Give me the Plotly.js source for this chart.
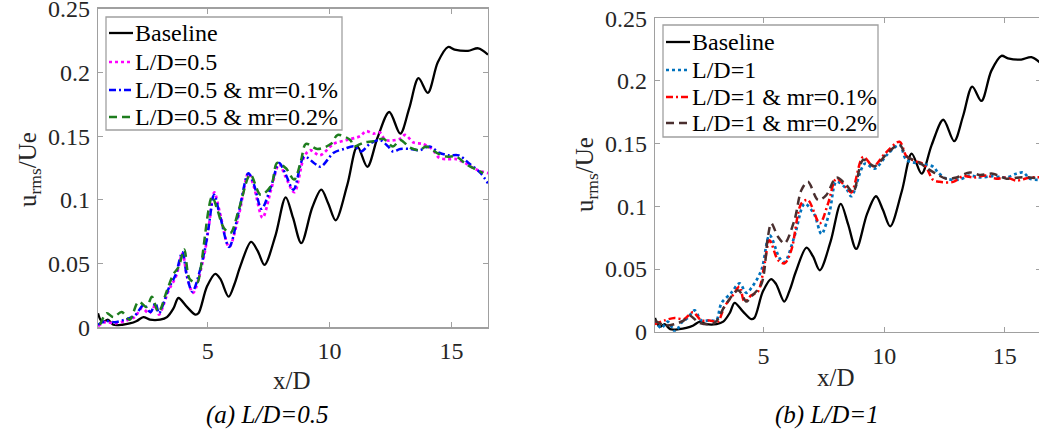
<!DOCTYPE html>
<html>
<head>
<meta charset="utf-8">
<script src="https://cdn.plot.ly/plotly-3.0.1.min.js"></script>
<style>
  html, body { margin: 0; padding: 0; background: #fff; overflow: hidden; }
  #chart { width: 1041px; height: 435px; }
</style>
</head>
<body>
<div id="chart"></div>
<script>
// Streamwise u_rms/Ue along the jet axis, baseline vs. controlled cases

// Shared axis ticks
const xTickVals = [5, 10, 15];
const xTickText = ['5', '10', '15'];
const yTickVals = [0, 0.05, 0.1, 0.15, 0.2, 0.25];
const yTickText = ['0', '0.05', '0.1', '0.15', '0.2', '0.25'];

// Baseline (same in both panels)
const baseX = [0.5, 0.6, 0.72, 0.9, 1.13, 1.5, 1.8, 2.09, 2.36, 2.63, 3.05, 3.33, 3.6, 3.8, 4.15, 4.49, 4.62, 4.97, 5.31, 5.52, 5.86, 6.1, 6.34, 6.78, 7.05, 7.33, 7.78, 8.2, 8.5, 8.84, 9.29, 9.66, 9.95, 10.25, 10.73, 11.14, 11.55, 11.97, 12.45, 12.9, 13.27, 13.65, 14.03, 14.44, 14.86, 15.13, 15.68, 16.1, 16.5];
const baseY = [0.011, 0.006, 0.004, 0.006, 0.002, 0.002, 0.003, 0.005, 0.008, 0.006, 0.006, 0.008, 0.015, 0.023, 0.016, 0.010, 0.011, 0.032, 0.042, 0.038, 0.024, 0.034, 0.048, 0.067, 0.060, 0.049, 0.072, 0.102, 0.086, 0.066, 0.094, 0.108, 0.097, 0.084, 0.112, 0.142, 0.126, 0.149, 0.169, 0.152, 0.172, 0.1955, 0.184, 0.208, 0.220, 0.218, 0.217, 0.219, 0.214];

// Panel (a): L/D = 0.5
const ld05X = [0.5, 0.8, 1.2, 1.6, 2.0, 2.3, 2.6, 2.85, 3.0, 3.4, 3.7, 3.97, 4.15, 4.4, 4.85, 5.05, 5.27, 5.5, 5.88, 6.3, 6.67, 6.9, 7.25, 7.6, 7.93, 8.2, 8.55, 8.96, 9.2, 9.6, 10.17, 10.7, 11.25, 11.5, 11.8, 12.05, 12.3, 12.9, 13.1, 13.45, 13.8, 14.2, 14.5, 14.8, 15.2, 15.55, 16.0, 16.5];
const ld05Y = [0.001, 0.004, 0.003, 0.005, 0.008, 0.015, 0.011, 0.017, 0.010, 0.029, 0.040, 0.058, 0.040, 0.027, 0.056, 0.080, 0.106, 0.090, 0.063, 0.090, 0.121, 0.110, 0.086, 0.108, 0.128, 0.118, 0.106, 0.134, 0.139, 0.135, 0.144, 0.147, 0.150, 0.154, 0.152, 0.153, 0.147, 0.148, 0.151, 0.145, 0.144, 0.140, 0.133, 0.132, 0.132, 0.129, 0.124, 0.121];

const ld05m1X = [0.5, 0.8, 1.2, 1.6, 2.0, 2.38, 2.65, 2.86, 3.0, 3.41, 3.68, 3.96, 4.15, 4.37, 4.85, 5.05, 5.26, 5.5, 5.88, 6.29, 6.67, 6.9, 7.21, 7.59, 7.93, 8.2, 8.52, 8.96, 9.36, 9.63, 10.17, 10.6, 11.0, 11.3, 11.65, 12.06, 12.4, 12.6, 12.9, 13.3, 13.7, 14.1, 14.5, 14.9, 15.3, 15.7, 16.2, 16.5];
const ld05m1Y = [0.002, 0.005, 0.004, 0.006, 0.009, 0.0175, 0.012, 0.019, 0.011, 0.031, 0.041, 0.059, 0.040, 0.028, 0.058, 0.080, 0.104, 0.088, 0.063, 0.092, 0.121, 0.112, 0.093, 0.110, 0.129, 0.120, 0.108, 0.134, 0.129, 0.126, 0.137, 0.140, 0.142, 0.138, 0.144, 0.147, 0.142, 0.138, 0.140, 0.140, 0.139, 0.142, 0.137, 0.135, 0.135, 0.129, 0.121, 0.113];

const ld05m2X = [0.58, 0.86, 1.13, 1.47, 1.8, 2.16, 2.5, 2.71, 2.98, 3.33, 3.6, 3.8, 4.04, 4.26, 4.57, 4.7, 5.18, 5.4, 5.66, 5.93, 6.3, 6.75, 7.17, 7.6, 7.85, 8.2, 8.55, 8.83, 9.03, 9.5, 10.06, 10.33, 10.85, 11.0, 11.4, 11.8, 12.2, 12.6, 12.9, 13.3, 13.7, 13.95, 14.4, 14.8, 15.2, 15.6, 16.0, 16.3];
const ld05m2Y = [0.002, 0.011, 0.008, 0.012, 0.006, 0.020, 0.016, 0.024, 0.012, 0.029, 0.042, 0.047, 0.061, 0.038, 0.035, 0.045, 0.1025, 0.092, 0.078, 0.074, 0.094, 0.120, 0.104, 0.111, 0.129, 0.125, 0.116, 0.131, 0.144, 0.140, 0.144, 0.151, 0.147, 0.142, 0.145, 0.146, 0.148, 0.142, 0.147, 0.141, 0.139, 0.142, 0.137, 0.134, 0.134, 0.128, 0.124, 0.121];

// Panel (b): L/D = 1
const ld1X = [0.48, 0.76, 1.03, 1.34, 1.59, 1.86, 2.14, 2.42, 2.76, 3.04, 3.25, 3.66, 4.01, 4.28, 4.5, 4.91, 5.25, 5.67, 5.87, 6.28, 6.7, 7.09, 7.4, 7.74, 8.02, 8.43, 8.64, 9.2, 9.6, 10.16, 10.64, 10.92, 11.48, 12.03, 12.23, 12.58, 13.13, 13.55, 13.96, 14.5, 15.07, 15.48, 15.76, 16.04, 16.5];
const ld1Y = [0.009, 0.003, 0.008, 0.000, 0.007, 0.011, 0.017, 0.009, 0.009, 0.009, 0.0226, 0.031, 0.0386, 0.031, 0.035, 0.049, 0.077, 0.0585, 0.0555, 0.076, 0.102, 0.094, 0.078, 0.096, 0.1196, 0.114, 0.108, 0.134, 0.130, 0.142, 0.149, 0.137, 0.134, 0.1316, 0.127, 0.122, 0.1214, 0.1245, 0.123, 0.124, 0.123, 0.126, 0.127, 0.122, 0.121];

const ld1m1X = [0.48, 0.9, 1.31, 1.7, 2.07, 2.42, 2.76, 3.1, 3.38, 3.8, 4.0, 4.21, 4.49, 4.77, 5.04, 5.25, 5.6, 5.87, 6.15, 6.57, 6.84, 7.33, 7.67, 8.02, 8.43, 8.64, 9.13, 9.55, 10.03, 10.64, 10.92, 11.34, 11.6, 11.8, 12.03, 12.3, 12.86, 13.27, 13.69, 14.24, 14.65, 15.07, 15.48, 16.04, 16.5];
const ld1m1Y = [0.006, 0.009, 0.011, 0.010, 0.0155, 0.009, 0.009, 0.008, 0.020, 0.031, 0.036, 0.024, 0.029, 0.032, 0.054, 0.073, 0.057, 0.0545, 0.065, 0.1024, 0.105, 0.0864, 0.102, 0.122, 0.115, 0.111, 0.1395, 0.132, 0.142, 0.1515, 0.140, 0.1356, 0.134, 0.129, 0.121, 0.1195, 0.1195, 0.124, 0.123, 0.1245, 0.122, 0.123, 0.1205, 0.123, 0.123];

const ld1m2X = [0.48, 0.9, 1.31, 1.7, 1.93, 2.35, 2.97, 3.38, 3.93, 4.1, 4.28, 4.49, 4.91, 5.18, 5.32, 5.6, 5.87, 6.28, 6.57, 6.84, 7.26, 7.6, 8.02, 8.43, 8.71, 9.13, 9.6, 10.16, 10.64, 10.92, 11.48, 11.8, 12.1, 12.58, 13.0, 13.55, 13.96, 14.5, 15.07, 15.6, 16.04, 16.5];
const ld1m2Y = [0.009, 0.005, 0.006, 0.009, 0.013, 0.007, 0.007, 0.020, 0.033, 0.030, 0.024, 0.028, 0.038, 0.0757, 0.0864, 0.0757, 0.0705, 0.089, 0.113, 0.1196, 0.105, 0.109, 0.123, 0.117, 0.111, 0.137, 0.132, 0.143, 0.149, 0.140, 0.1346, 0.130, 0.1265, 0.122, 0.123, 0.127, 0.125, 0.126, 0.122, 0.123, 0.123, 0.122];

const seriesNamesA = ['Baseline', 'L/D=0.5', 'L/D=0.5 & mr=0.1%', 'L/D=0.5 & mr=0.2%'];
const seriesNamesB = ['Baseline', 'L/D=1', 'L/D=1 & mr=0.1%', 'L/D=1 & mr=0.2%'];
const captions = ['(a) L/D=0.5', '(b) L/D=1'];

// Page geometry (px)
const W = 1041, H = 435;
const fx = p => p / W;
const fy = p => 1 - p / H;
const SERIF = 'Liberation Serif';

// Line styles per series slot
const stylesA = [
  { color: '#000000', dash: 'solid', width: 2.3 },
  { color: '#ff00ff', dash: 'dot', width: 2.7 },
  { color: '#0000ff', dash: '7px,3px,2px,3px', width: 2.5 },
  { color: '#1e7d1e', dash: '8px,5px', width: 2.5 }
];
const stylesB = [
  { color: '#000000', dash: 'solid', width: 2.3 },
  { color: '#0072bd', dash: 'dot', width: 2.7 },
  { color: '#ff0000', dash: '7px,3px,2px,3px', width: 2.5 },
  { color: '#4a2f2f', dash: '8px,5px', width: 2.5 }
];

function line(x, y, name, st, xa, ya) {
  return {
    x: x, y: y, name: name, type: 'scatter', mode: 'lines',
    xaxis: xa, yaxis: ya, showlegend: false,
    line: { color: st.color, dash: st.dash, width: st.width, shape: 'spline', smoothing: 0.9 }
  };
}

const dataA = [[baseX, baseY], [ld05X, ld05Y], [ld05m1X, ld05m1Y], [ld05m2X, ld05m2Y]];
const dataB = [[baseX, baseY], [ld1X, ld1Y], [ld1m1X, ld1m1Y], [ld1m2X, ld1m2Y]];

const traces = [];
dataA.forEach((d, i) => traces.push(line(d[0], d[1], seriesNamesA[i], stylesA[i], 'x', 'y')));
dataB.forEach((d, i) => traces.push(line(d[0], d[1], seriesNamesB[i], stylesB[i], 'x2', 'y2')));

const tickFont = { family: SERIF, size: 24, color: '#262626' };
const axisCommon = {
  showgrid: false, zeroline: false, showline: true, mirror: 'ticks',
  linecolor: '#a0a0a0', linewidth: 1.3, ticks: 'inside', ticklen: 5,
  tickcolor: '#a0a0a0', tickwidth: 1, tickfont: tickFont,
  ticklabeloverflow: 'allow', ticklabelstandoff: 2
};

function xAxis(d0, d1, anchor) {
  return Object.assign({}, axisCommon, {
    domain: [d0, d1], range: [0.5, 16.5], anchor: anchor,
    tickmode: 'array', tickvals: xTickVals, ticktext: xTickText
  });
}
function yAxis(d0, d1, anchor) {
  return Object.assign({}, axisCommon, {
    domain: [d0, d1], range: [0, 0.25], anchor: anchor,
    tickmode: 'array', tickvals: yTickVals, ticktext: yTickText
  });
}

// Boxed legends drawn in page space: box, sample line and label per row
const shapes = [];
const annotations = [];
function legendBox(box, rowsY, sampleX0, sampleX1, textX, names, styles) {
  shapes.push({
    type: 'rect', xref: 'paper', yref: 'paper',
    x0: fx(box[0]), x1: fx(box[1]), y0: fy(box[3]), y1: fy(box[2]),
    line: { color: '#a0a0a0', width: 1.3 }, fillcolor: '#ffffff', layer: 'above'
  });
  names.forEach((nm, i) => {
    shapes.push({
      type: 'line', xref: 'paper', yref: 'paper',
      x0: fx(sampleX0), x1: fx(sampleX1), y0: fy(rowsY[i]), y1: fy(rowsY[i]),
      line: { color: styles[i].color, dash: styles[i].dash, width: styles[i].width }, layer: 'above'
    });
    annotations.push({
      text: nm, xref: 'paper', yref: 'paper', x: fx(textX), y: fy(rowsY[i]),
      xanchor: 'left', yanchor: 'middle', showarrow: false,
      font: { family: SERIF, size: 24, color: '#000000' }
    });
  });
}
legendBox([106, 342, 17, 130], [33, 62, 90, 117], 109, 133, 133, seriesNamesA, stylesA);
legendBox([663, 878, 25, 137], [42, 70, 97, 123], 666, 690, 690, seriesNamesB, stylesB);

const textFont = { family: SERIF, size: 25, color: '#262626' };
const captionFont = { family: SERIF, size: 25, color: '#000000' };
function label(text, x, y, extra) {
  annotations.push(Object.assign({
    text: text, x: fx(x), y: fy(y), xref: 'paper', yref: 'paper',
    xanchor: 'center', yanchor: 'middle', showarrow: false, font: textFont
  }, extra || {}));
}
label('x/D', 292, 380);
label('x/D', 836, 377);
label('u<sub>rms</sub>/Ue', 30, 170, { textangle: -90 });
label('u<sub>rms</sub>/Ue', 586, 175, { textangle: -90 });
label('<i>' + captions[0] + '</i>', 267, 415, { font: captionFont });
label('<i>' + captions[1] + '</i>', 827, 415, { font: captionFont });

const layout = {
  width: W, height: H,
  margin: { l: 0, r: 0, t: 0, b: 0 },
  paper_bgcolor: '#ffffff', plot_bgcolor: '#ffffff',
  showlegend: false,
  xaxis: xAxis(fx(98), fx(488), 'y'),
  yaxis: yAxis(fy(327.3), fy(8.8), 'x'),
  xaxis2: xAxis(fx(655), fx(1041), 'y2'),
  yaxis2: yAxis(fy(331.7), fy(18.2), 'x2'),
  shapes: shapes,
  annotations: annotations
};

Plotly.newPlot('chart', traces, layout, { staticPlot: true, displayModeBar: false });
</script>
</body>
</html>
